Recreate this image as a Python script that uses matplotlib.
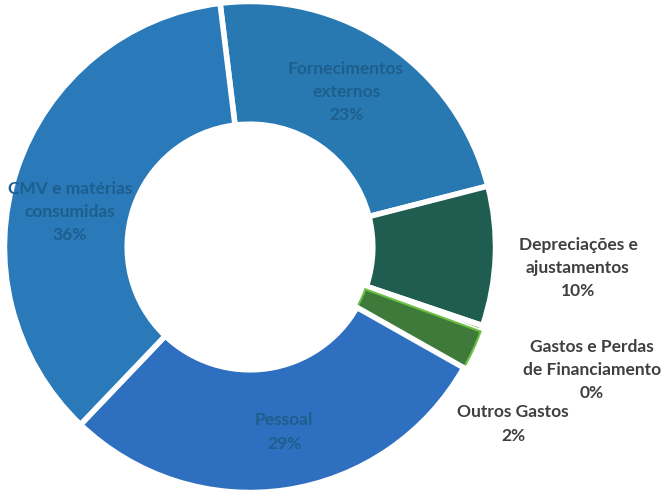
import matplotlib.pyplot as plt

# expense shares, clockwise from top
categories = ['Fornecimentos\nexternos', 'Depreciações e\najustamentos',
              'Gastos e Perdas\nde Financiamento', 'Outros Gastos',
              'Pessoal', 'CMV e matérias\nconsumidas']
values = [23, 9.2, 0.4, 2.6, 29, 36]
pct_labels = ['23%', '10%', '0%', '2%', '29%', '36%']
colors = ['#2878b2', '#1e5d4f', '#4f9a3c', '#3e7b3a', '#2f6fc0', '#2a79b9']

fig = plt.figure(figsize=(6.65, 4.97), dpi=100)
ax = fig.add_axes([2 / 665, 2 / 497, 496 / 665, 496 / 497])

wedges, _ = ax.pie(values, colors=colors, startangle=97, counterclock=False,
                   radius=1.0,
                   wedgeprops=dict(width=0.5, edgecolor='white', linewidth=4))
# small slice gets a bright green rim
wedges[3].set_edgecolor('#6cbf45')
wedges[3].set_linewidth(1.5)
ax.set_aspect('equal')
ax.set_xlim(-1.01, 1.01)
ax.set_ylim(-1.01, 1.01)

font = dict(family=['Lato', 'DejaVu Sans'], fontsize=12.5, fontweight='bold',
            ha='center', va='center', linespacing=1.55)

# label positions in pixels (x, y from top)
inner_pos = {0: (346, 92), 4: (284, 432), 5: (70, 212)}
outer_pos = {1: (578, 268), 2: (592, 370), 3: (513, 424)}

for i, (x, y) in inner_pos.items():
    fig.text(x / 665, 1 - y / 497, categories[i] + '\n' + pct_labels[i],
             color='#1d5f8c', **font)
for i, (x, y) in outer_pos.items():
    fig.text(x / 665, 1 - y / 497, categories[i] + '\n' + pct_labels[i],
             color='#3f3f3f', **font)

fig.savefig('out.png', dpi=100)
